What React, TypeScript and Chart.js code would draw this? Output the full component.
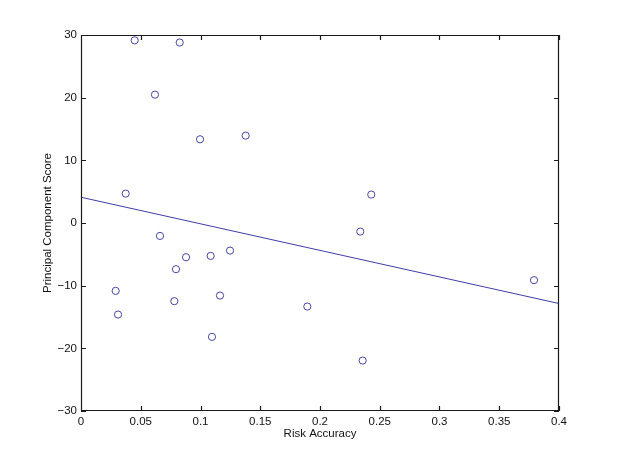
import React, { useEffect, useRef } from "react";
import { Chart, registerables } from "chart.js";

Chart.register(...registerables);

const riskAccuracy = [
  0.0449, 0.0826, 0.0619, 0.0996, 0.1378, 0.0374, 0.0661, 0.0879, 0.0795, 0.1085,
  0.1247, 0.029, 0.0781, 0.1163, 0.031, 0.1096, 0.1894, 0.2429, 0.2337, 0.3791, 0.2357,
];
const pcScore = [
  29.15, 28.8, 20.48, 13.36, 13.94, 4.69, -2.06, -5.46, -7.37, -5.25,
  -4.4, -10.83, -12.47, -11.58, -14.61, -18.17, -13.33, 4.53, -1.37, -9.12, -21.95,
];
const fitX = [0, 0.4];
const fitY = [4.11, -12.85];
const xTicks = [0, 0.05, 0.1, 0.15, 0.2, 0.25, 0.3, 0.35, 0.4];
const yTicks = [-30, -20, -10, 0, 10, 20, 30];

const FONT = "'Liberation Sans', Arial, Helvetica, sans-serif";
const FSIZE = 11.5;

const boxTicks = {
  id: "boxTicks",
  afterDraw(chart: any) {
    const { ctx, chartArea: a, scales } = chart;
    const L = 5;
    ctx.save();
    ctx.strokeStyle = "#1a1a1a";
    ctx.lineWidth = 1.2;
    ctx.beginPath();
    ctx.rect(a.left + 0.5, a.top + 0.5, a.right - a.left - 1, a.bottom - a.top - 1);
    for (const v of xTicks) {
      const x = Math.round(scales.x.getPixelForValue(v)) + 0.5;
      ctx.moveTo(x, a.bottom);
      ctx.lineTo(x, a.bottom - L);
      ctx.moveTo(x, a.top);
      ctx.lineTo(x, a.top + L);
    }
    for (const v of yTicks) {
      const y = Math.round(scales.y.getPixelForValue(v)) + 0.5;
      ctx.moveTo(a.left, y);
      ctx.lineTo(a.left + L, y);
      ctx.moveTo(a.right, y);
      ctx.lineTo(a.right - L, y);
    }
    ctx.stroke();
    ctx.restore();
  },
};

export default function App() {
  const ref = useRef<HTMLCanvasElement>(null);
  useEffect(() => {
    document.body.style.margin = "0";
    const chart = new Chart(ref.current!, {
      type: "scatter",
      data: {
        datasets: [
          {
            label: "Data",
            data: riskAccuracy.map((x, i) => ({ x, y: pcScore[i] })),
            pointStyle: "circle",
            pointRadius: 3.6,
            pointBorderWidth: 1,
            borderColor: "#45459e",
            backgroundColor: "rgba(0,0,0,0)",
            showLine: false,
          },
          {
            label: "Fit",
            data: fitX.map((x, i) => ({ x, y: fitY[i] })),
            showLine: true,
            pointRadius: 0,
            borderColor: "#3f3fa6",
            borderWidth: 1,
          },
        ],
      },
      options: {
        animation: false,
        responsive: false,
        layout: { padding: { left: 0, top: 35, right: 58, bottom: 0 } },
        plugins: { legend: { display: false }, tooltip: { enabled: false } },
        scales: {
          x: {
            type: "linear",
            min: 0,
            max: 0.4,
            afterBuildTicks: (s: any) => {
              s.ticks = xTicks.map((v) => ({ value: v }));
            },
            afterFit: (s: any) => {
              s.height = 51;
            },
            grid: { display: false, drawTicks: false, tickLength: 0 },
            border: { display: false },
            ticks: {
              color: "#111",
              font: { family: FONT, size: FSIZE },
              padding: 4,
              maxRotation: 0,
              callback: (v: any) => String(Number(v)),
            },
            title: {
              display: true,
              text: "Risk Accuracy",
              color: "#111",
              font: { family: FONT, size: FSIZE },
              padding: { top: 0, bottom: 21 },
            },
          },
          y: {
            type: "linear",
            min: -30,
            max: 30,
            afterBuildTicks: (s: any) => {
              s.ticks = yTicks.map((v) => ({ value: v }));
            },
            afterFit: (s: any) => {
              s.width = 81;
            },
            grid: { display: false, drawTicks: false, tickLength: 0 },
            border: { display: false },
            ticks: {
              color: "#111",
              font: { family: FONT, size: FSIZE },
              padding: 4,
              callback: (v: any) => (Number(v) < 0 ? "\u2212" + Math.abs(Number(v)) : String(v)),
            },
            title: {
              display: true,
              text: "Principal Component Score",
              color: "#111",
              font: { family: FONT, size: FSIZE },
              padding: { top: 41, bottom: 0 },
            },
          },
        },
      },
      plugins: [boxTicks],
    });
    return () => chart.destroy();
  }, []);
  return (
    <div style={{ width: 617, height: 462, background: "#fff" }}>
      <canvas ref={ref} width={617} height={462} />
    </div>
  );
}
